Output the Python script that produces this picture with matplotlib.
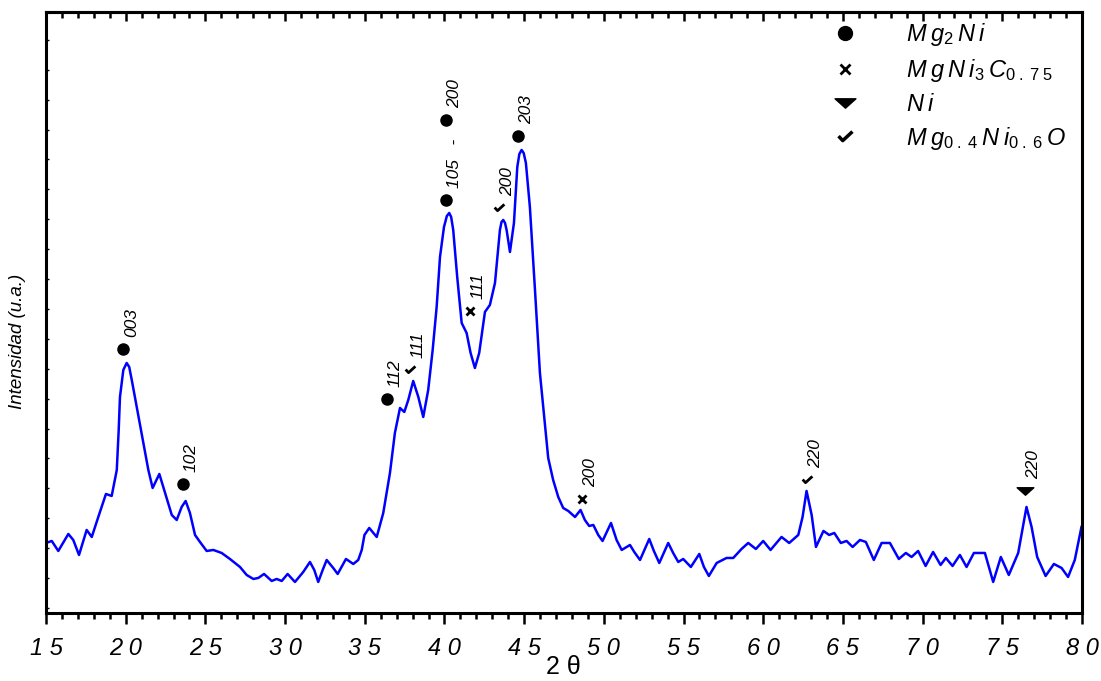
import matplotlib
matplotlib.use('Agg')
import matplotlib.pyplot as plt
from matplotlib.lines import Line2D
from matplotlib.path import Path
from matplotlib.ticker import MultipleLocator, FuncFormatter, NullFormatter

plt.rcParams['font.family'] = ['Liberation Sans', 'DejaVu Sans']
plt.rcParams['mathtext.fontset'] = 'custom'
plt.rcParams['mathtext.it'] = 'Liberation Sans:italic'
plt.rcParams['mathtext.rm'] = 'Liberation Sans'

# XRD pattern (intensity in arbitrary units)
two_theta = [15.00, 15.36, 15.77, 16.40, 16.71, 17.07, 17.55, 17.87, 18.28, 18.76,
             19.12, 19.44, 19.56, 19.64, 19.85, 20.06, 20.22, 20.38, 20.69, 21.10, 21.42, 21.69,
             22.11, 22.47, 22.89, 23.20, 23.51, 23.76, 24.03, 24.35, 24.66, 25.08,
             25.50, 26.02, 26.54, 27.17, 27.59, 28.01, 28.32, 28.68, 29.16, 29.47,
             29.79, 30.16, 30.62, 31.14, 31.56, 31.83, 32.08, 32.36, 32.61, 33.02,
             33.30, 33.82, 34.28, 34.59, 34.81, 34.98, 35.28, 35.75, 36.16, 36.58,
             36.89, 37.21, 37.48, 37.73, 38.04, 38.36, 38.67, 38.98, 39.26, 39.51,
             39.72, 39.97, 40.15, 40.30, 40.42, 40.55, 40.80, 41.08, 41.39, 41.64, 41.91, 42.18,
             42.54, 42.85, 43.17, 43.48, 43.58, 43.69, 43.80, 43.90, 44.11, 44.36, 44.57, 44.70,
             44.84, 44.97, 45.11, 45.36, 45.68, 45.99, 46.30, 46.51, 46.82, 47.14, 47.45, 47.77,
             48.19, 48.54, 48.81, 49.08, 49.34, 49.65, 49.92, 50.45, 50.80, 51.12,
             51.64, 51.91, 52.27, 52.85, 53.14, 53.48, 54.04, 54.35, 54.67, 54.98,
             55.46, 55.99, 56.28, 56.59, 57.08, 57.70, 58.12, 58.64, 59.06, 59.54,
             60.00, 60.46, 61.15, 61.63, 62.20, 62.47, 62.72, 63.04, 63.31, 63.78,
             64.14, 64.46, 64.87, 65.23, 65.61, 66.07, 66.44, 66.94, 67.43, 67.95,
             68.51, 68.95, 69.31, 69.72, 70.19, 70.66, 71.13, 71.46, 71.88, 72.34,
             72.76, 73.22, 73.70, 73.91, 74.43, 74.91, 75.41, 76.00, 76.52, 76.84,
             77.19, 77.72, 78.24, 78.72, 79.13, 79.55, 79.97]
intensity = [65, 67, 57, 74, 68, 53, 78, 71, 91, 114,
             112, 138, 178, 211, 238, 245, 241, 228, 201, 165, 138, 120,
             134, 115, 93, 88, 101, 107, 95, 73, 66, 57,
             58, 55, 49, 41, 33, 29, 30, 34, 27, 29,
             27, 34, 26, 36, 46, 38, 26, 38, 48, 40,
             34, 49, 44, 48, 58, 73, 80, 71, 95, 135,
             175, 200, 196, 208, 227, 211, 191, 218, 258, 301,
             351, 381, 392, 395, 391, 378, 331, 285, 275, 255, 240, 255,
             296, 303, 325, 378, 386, 388, 385, 378, 356, 385, 441, 454,
             458, 455, 445, 401, 318, 235, 185, 150, 128, 111, 100, 97,
             91, 98, 88, 82, 83, 73, 67, 85, 68, 58,
             63, 56, 48, 69, 57, 45, 65, 55, 46, 49,
             41, 54, 41, 32, 45, 50, 50, 59, 65, 59,
             67, 58, 71, 65, 73, 91, 117, 93, 61, 77,
             73, 75, 65, 67, 61, 68, 66, 48, 65, 65,
             49, 55, 51, 57, 42, 56, 43, 50, 42, 53,
             41, 55, 55, 55, 26, 51, 33, 55, 101, 81,
             51, 32, 44, 40, 31, 48, 81]

# indexed peaks
peak_theta = [19.83, 23.59, 36.40, 37.84, 40.09, 40.09, 41.61, 43.43, 44.61, 48.62, 62.74, 76.42]
peak_int = [259, 124, 209, 238, 408, 488, 297, 400, 472, 109, 128, 117]
peak_phase = ['Mg2Ni', 'Mg2Ni', 'Mg2Ni', 'MgNiO', 'Mg2Ni', 'Mg2Ni',
              'MgNi3C', 'MgNiO', 'Mg2Ni', 'MgNi3C', 'MgNiO', 'Ni']
peak_hkl = ['003', '102', '112', '111', '105   -', '200', '111', '200', '203', '200', '220', '220']

phases = ['Mg2Ni', 'MgNi3C', 'Ni', 'MgNiO']
phase_labels = [r'$\mathit{M\:g_{2}\:N\:i}$',
                r'$\mathit{M\:g\:N\:i_{3}\:C_{0\;.\;7\;5}}$',
                r'$\mathit{N\:i}$',
                r'$\mathit{M\:g_{0\;.\;4}\:N\:i_{0\;.\;6}\:O}$']

check = Path([(-1.0, 0.2), (-0.4, -0.45), (1.0, 0.85)],
             [Path.MOVETO, Path.LINETO, Path.LINETO])
flat_tri = Path([(-1, 0.45), (1, 0.45), (0, -0.45), (-1, 0.45)],
                [Path.MOVETO, Path.LINETO, Path.LINETO, Path.CLOSEPOLY])

peak_style = {
    'Mg2Ni': dict(marker='o', ms=8, mfc='k', mec='k'),
    'MgNi3C': dict(marker='x', ms=6, mew=2, mec='k'),
    'Ni': dict(marker=flat_tri, ms=12, mfc='k', mec='k'),
    'MgNiO': dict(marker=check, ms=7, mew=2, mec='k', fillstyle='none'),
}
legend_style = {
    'Mg2Ni': dict(marker='o', ms=10, mfc='k', mec='k'),
    'MgNi3C': dict(marker='x', ms=6.5, mew=2, mec='k'),
    'Ni': dict(marker=flat_tri, ms=15, mfc='k', mec='k'),
    'MgNiO': dict(marker=check, ms=10, mew=2.5, mec='k', fillstyle='none'),
}

fig = plt.figure(figsize=(11.01, 6.81), dpi=100)
ax = fig.add_axes([0.0418, 0.0999, 0.9409, 0.8825])

ax.plot(two_theta, intensity, color='#0000ff', lw=1.8, solid_joinstyle='round')

for t, i, ph, hkl in zip(peak_theta, peak_int, peak_phase, peak_hkl):
    ax.plot([t], [i], linestyle='none', color='k', **peak_style[ph])
    ax.annotate(hkl, (t, i), xytext=(6, 8.5), textcoords='offset points',
                rotation=90, ha='center', va='bottom', fontsize=12.5, style='italic')

handles = [Line2D([], [], linestyle='none', color='k', **legend_style[p]) for p in phases]
ax.legend(handles, phase_labels, loc='upper left', bbox_to_anchor=(0.7597, 0.985),
          frameon=False, fontsize=17, handlelength=1.0, handletextpad=2.1,
          labelspacing=0.4, borderpad=0, borderaxespad=0)

ax.set_xlim(15, 80)
ax.set_ylim(-5, 596)

ax.xaxis.set_major_locator(MultipleLocator(5))
ax.xaxis.set_minor_locator(MultipleLocator(1))
ax.xaxis.set_major_formatter(FuncFormatter(lambda v, p: ' '.join(str(int(round(v))))))
ax.tick_params(axis='x', which='major', direction='out', length=8, width=1.8,
               labelsize=17, pad=9, top=False)
ax.tick_params(axis='x', which='minor', direction='out', length=4.3, width=1.8, top=False)
for lab in ax.get_xticklabels():
    lab.set_style('italic')

ax.yaxis.set_major_locator(MultipleLocator(29.9))
ax.yaxis.set_major_formatter(NullFormatter())
ax.tick_params(axis='y', which='major', direction='in', length=2.5, width=1.0, right=False)

top = ax.secondary_xaxis('top')
top.xaxis.set_major_locator(MultipleLocator(5))
top.xaxis.set_minor_locator(MultipleLocator(1))
top.tick_params(axis='x', which='major', direction='in', length=6.5, width=1.8, labeltop=False)
top.tick_params(axis='x', which='minor', direction='in', length=4, width=1.8)
top.spines['top'].set_linewidth(2.2)

for s in ax.spines.values():
    s.set_linewidth(2.2)

fig.text(18 / 1101, 1 - 341 / 681, 'Intensidad (u.a.)', rotation=90, style='italic',
         fontsize=13.5, ha='center', va='center')
fig.text(563 / 1101, 1 - 667 / 681, '2 θ', fontsize=18, ha='center', va='center')

fig.savefig('out.png', dpi=100)
